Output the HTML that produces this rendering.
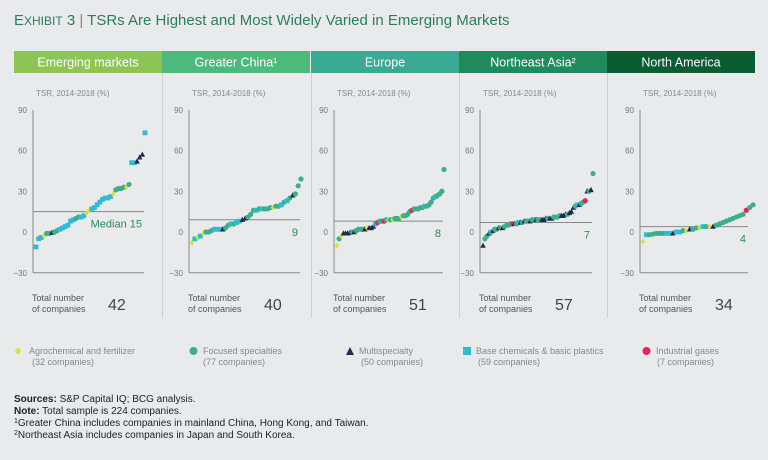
<!DOCTYPE html>
<html><head><meta charset="utf-8"><style>
html,body{margin:0;padding:0;background:#e9eaec;}
svg{display:block;font-family:"Liberation Sans",sans-serif;}
</style></head><body>
<svg id="chart" width="768" height="460" viewBox="0 0 768 460">
<rect x="0" y="0" width="768" height="460" fill="#e9eaec"/>
<text x="14" y="25" fill="#2a7d5e" font-size="15"><tspan font-size="15">E</tspan><tspan font-size="12">XHIBIT</tspan> 3 <tspan fill="#888">|</tspan> TSRs Are Highest and Most Widely Varied in Emerging Markets</text>
<g id="panels"></g>
<g id="legend" font-size="9" fill="#888">
<path d="M18 347 L21 351 L18 355 L15 351Z" fill="#d8e23c"/>
<text x="29" y="354">Agrochemical and fertilizer</text>
<text x="32" y="365">(32 companies)</text>
<circle cx="193.5" cy="351" r="4" fill="#3dae8a"/>
<text x="203" y="354">Focused specialties</text>
<text x="203" y="365">(77 companies)</text>
<path d="M346 355 L354 355 L350 347Z" fill="#1f2b4f"/>
<text x="359" y="354">Multispecialty</text>
<text x="361" y="365">(50 companies)</text>
<rect x="463" y="347" width="8" height="8" fill="#2bbdd2"/>
<text x="476" y="354">Base chemicals &amp; basic plastics</text>
<text x="478" y="365">(59 companies)</text>
<circle cx="646.5" cy="351" r="4" fill="#e0245e"/>
<text x="656" y="354">Industrial gases</text>
<text x="657" y="365">(7 companies)</text>
</g>
<g font-size="10" fill="#222">
<text x="14" y="402"><tspan font-weight="bold">Sources:</tspan> S&amp;P Capital IQ; BCG analysis.</text>
<text x="14" y="414"><tspan font-weight="bold">Note:</tspan> Total sample is 224 companies.</text>
<text x="14" y="426"><tspan font-size="7" dy="-3">1</tspan><tspan dy="3">Greater China includes companies in mainland China, Hong Kong, and Taiwan.</tspan></text>
<text x="14" y="438"><tspan font-size="7" dy="-3">2</tspan><tspan dy="3">Northeast Asia includes companies in Japan and South Korea.</tspan></text>
</g>
</svg>
<script>
const regions = ["Emerging markets","Greater China\u00b9","Europe","Northeast Asia\u00b2","North America"];
const medians = [15,9,8,7,4];
const totals = [42,40,51,57,34];
const yTicks = [90,60,30,0,-30];
const emVals = [-11,-5,-4,-3,-1,-1,-0.5,0,1,2,3,4,5,8,9,10,11,11,12,14,16,17,18,20,22,24,25,25,26,28,31,32,32,33,33,35,51,51,52,55,57,73];
const emTypes = "cccyggnggccccccggccyyccccccccyggggygccnnnc";
const gcVals = [-8,-5,-4,-3,-1,0,0,1,2,2,2,2,3,5,6,6,7,8,9,10,11,13,16,16,17,17,17,17,18,18,19,19,20,22,23,25,27,28,34,39];
const gcTypes = "ycycygggcccnggcgccnngggcgcgggyggcgcgnggg";
const euVals = [-10,-5,-3,-1,-1,-1,-0.5,0,0,1,2,2,2,2,3,3,3,4,6,7,8,8,8,9,9,9,9,10,10,10,11,12,12,13,15,16,17,17,17,18,18,19,19,20,22,25,26,27,28,30,46];
const euTypes = "ygynnnngnggggnynnncrggrgygygggyggggrgggggcggggcggggy";
const naVals = [-10,-5,-3,-1,0,1,2,2,3,3,3,4,5,5,6,6,6,6,7,7,7,8,8,8,8,9,9,9,9,9,9,9,10,10,10,10,11,11,11,12,12,12,13,13,14,15,18,19,20,20,21,22,23,30,30,31,43];
const naTypes = "nggncnggngnggggrngcngnggnggnggnnngnnggggnnngnnngcnggrngngg";
const amVals = [-7,-2,-2,-1.5,-1,-1,-1,-1,-1,-1,0,0,1,1,2,2,3,3,4,4,4,4,5,6,7,8,9,10,11,12,13,16,18,20];
const amTypes = "ycgggggccnccgynggycgyngggggggggrggg";
const allVals = [emVals,gcVals,euVals,naVals,amVals];
const allTypes = [emTypes,gcTypes,euTypes,naTypes,amTypes];

const headerColors = ["#8dc456","#4db97a","#3aaa92","#1f8a5c","#0b5b33"];
const px0 = [14,162,311,459,607];
const axisX = [33,189,334,480,640];
const axisEnd = [144,300,443,592,748];
const colors = {y:"#d8e23c",g:"#3dae8a",n:"#1f2b4f",c:"#2bbdd2",r:"#e0245e"};
function yScale(v){ return 232 - v*(40.75/30); }
const NS="http://www.w3.org/2000/svg";
const root=document.getElementById('panels');
function mk(tag,attrs,parent){const e=document.createElementNS(NS,tag);for(const k in attrs)e.setAttribute(k,attrs[k]);(parent||root).appendChild(e);return e;}
for(let p=0;p<5;p++){
  const g=mk('g',{});
  
  
  const x0=px0[p], w=148;
  const hdr=mk('rect',{x:x0,y:51,width:w,height:22,fill:headerColors[p]},g);
  
  
  const ht=mk('text',{x:x0+w/2,y:66.5,'text-anchor':'middle','font-size':'12.5',fill:'#fff'},g);
  ht.textContent=regions[p];
  
  
  if(p>0){const sep=mk('line',{x1:x0+0.5,y1:73,x2:x0+0.5,y2:318,stroke:'#cfd1d4','stroke-width':1},g);
    
    }
  const ax=axisX[p], ae=axisEnd[p];
  const tl=mk('text',{x:ax+3,y:96,'font-size':'8',fill:'#888'},g);
  tl.textContent='TSR, 2014-2018 (%)';
  
  
  yTicks.forEach(t=>{const tt=mk('text',{x:ax-6,y:yScale(t)+3,'text-anchor':'end','font-size':'8',fill:'#777'},g);
    tt.textContent=t<0?'\u2212'+(-t):String(t);
    
    });
  const ya=mk('line',{x1:ax,y1:110,x2:ax,y2:yScale(-30),stroke:'#888','stroke-width':1},g);
  
  
  const xa=mk('line',{x1:ax,y1:yScale(-30),x2:ae,y2:yScale(-30),stroke:'#888','stroke-width':1},g);
  
  
  const my=yScale(medians[p]);
  const ml=mk('line',{x1:ax,y1:my,x2:ae,y2:my,stroke:'#888','stroke-width':1},g);
  
  
  const mt=mk('text',{x:ae-2,y:my+16,'text-anchor':'end','font-size':'11',fill:'#2a8a62'},g);
  mt.textContent=(p===0?'Median ':'')+medians[p];
  
  
  const vals=allVals[p], types=allTypes[p], n=vals.length;
  const xs=ax+3, xe=(p===4?753:ae+1);
  vals.forEach((v,i)=>{
    const cx=xs+(xe-xs)*i/(n-1), cy=yScale(v), t=types[i]||'g', c=colors[t];
    let m;
    if(t==='c') m=mk('rect',{x:cx-2.4,y:cy-2.4,width:4.8,height:4.8,fill:c},g);
    else if(t==='n') m=mk('path',{d:`M${cx-2.7} ${cy+2.2} L${cx+2.7} ${cy+2.2} L${cx} ${cy-3.1}Z`,fill:c},g);
    else if(t==='y') m=mk('path',{d:`M${cx} ${cy-3} L${cx+2.3} ${cy} L${cx} ${cy+3} L${cx-2.3} ${cy}Z`,fill:c},g);
    else m=mk('circle',{cx:cx,cy:cy,r:2.6,fill:c},g);
    
    
  });
  const t1=mk('text',{x:ax-1,y:301,'font-size':'9',fill:'#555'},g);
  t1.textContent='Total number';
  
  
  const t2=mk('text',{x:ax-1,y:312,'font-size':'9',fill:'#555'},g);
  t2.textContent='of companies';
  
  
  const tn=mk('text',{x:ax+75,y:310,'font-size':'16',fill:'#444'},g);
  tn.textContent=totals[p];
  
  
}
</script>
</body></html>
